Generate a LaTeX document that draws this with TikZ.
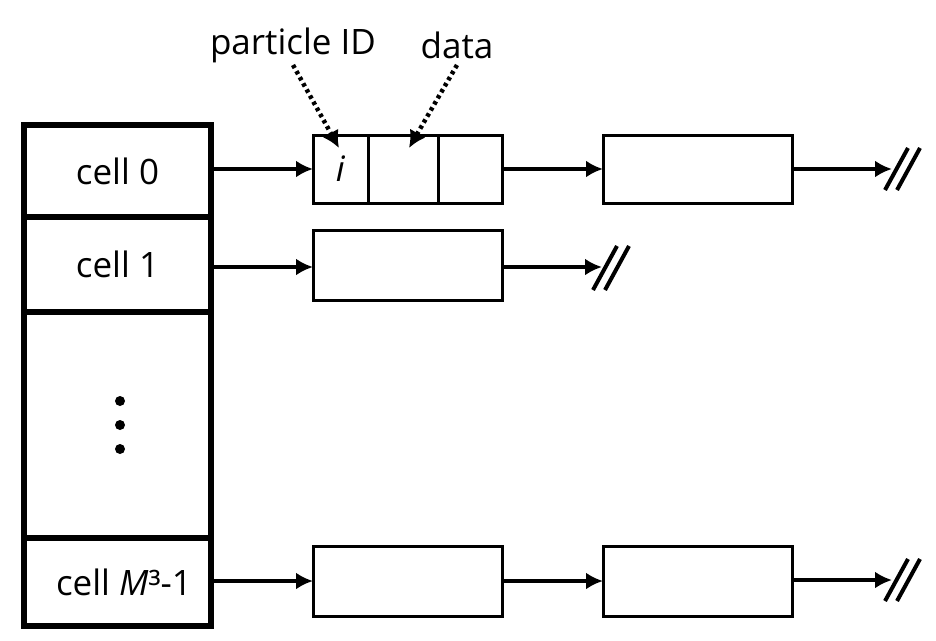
\documentclass[tikz,border=0pt]{standalone}
\usepackage{fontspec}
\setmainfont{Open Sans}
\usetikzlibrary{arrows.meta}
\begin{document}
\begin{tikzpicture}[x=1pt,y=-1pt,
  every node/.style={inner sep=0pt,outer sep=0pt,font=\fontsize{35}{42}\selectfont},
  cellbox/.style={draw,line width=6pt,minimum width=187pt},
  recbox/.style={draw,line width=3pt,minimum height=68pt},
  link/.style={line width=4pt,-{Latex[length=17pt,width=17pt]}},
  slash/.style={line width=4pt},
  dotlink/.style={line width=4.5pt,dash pattern=on 3.5pt off 3.5pt,-{Latex[length=17pt,width=18pt]}},
  dotmark/.style={circle,fill,minimum size=10pt}]
\useasboundingbox (0,0) rectangle (936,640);
% left column
\node[cellbox,minimum height=92pt] (c0) at (117.5,171) {cell 0};
\node[cellbox,minimum height=95pt] (c1) at (117.5,264.5) {cell 1};
\node[cellbox,minimum height=226pt] (cd) at (117.5,425) {};
\node[cellbox,minimum height=88pt] (cm) at (117.5,582) {};
\node (cmtext) at (124,582) {cell \textit{M}³-1};
\node[dotmark] (d1) at (120,401) {};
\node[dotmark] (d2) at (120,425) {};
\node[dotmark] (d3) at (120,449) {};
% row 0
\node[recbox,minimum width=55pt] (r0a) at (340.5,169) {\textit{i}};
\node[recbox,minimum width=70pt] (r0b) at (403,169) {};
\node[recbox,minimum width=64pt] (r0c) at (470,169) {};
\node[recbox,minimum width=189pt] (r0d) at (697.5,169) {};
\coordinate (e0) at (892,169);
\draw[link] (c0.east |- r0a.west) -- (r0a.west);
\draw[link] (r0c.east) -- (r0d.west);
\draw[link] (r0d.east) -- (e0);
\draw[slash] ([shift={(-7,21)}]e0) -- ([shift={(16,-21)}]e0);
\draw[slash] ([shift={(5,21)}]e0) -- ([shift={(28,-21)}]e0);
% row 1
\node[recbox,minimum width=189pt,minimum height=70pt] (r1a) at (407.5,265) {};
\coordinate (e1) at (602,267);
\draw[link] (c1.east |- e1) -- (r1a.west |- e1);
\draw[link] (r1a.east |- e1) -- (e1);
\draw[slash] ([shift={(-9,23)}]e1) -- ([shift={(15,-21)}]e1);
\draw[slash] ([shift={(3,23)}]e1) -- ([shift={(27,-21)}]e1);
% last row
\node[recbox,minimum width=189pt,minimum height=70pt] (rma) at (407.5,581) {};
\node[recbox,minimum width=189pt,minimum height=70pt] (rmb) at (697.5,581) {};
\coordinate (em) at (892,580);
\draw[link] (cm.east |- rma.west) -- (rma.west);
\draw[link] (rma.east) -- (rmb.west);
\draw[link] (rmb.east |- em) -- (em);
\draw[slash] ([shift={(-7,21)}]em) -- ([shift={(16,-21)}]em);
\draw[slash] ([shift={(5,21)}]em) -- ([shift={(28,-21)}]em);
% labels
\node (pid) at (293,45) {particle ID};
\node (dat) at (457,45) {data};
\coordinate (pidtip) at (339,148);
\coordinate (dattip) at (409,148);
\draw[dotlink] (293,65) -- (pidtip);
\draw[dotlink] (457,65) -- (dattip);
\end{tikzpicture}
\end{document}
